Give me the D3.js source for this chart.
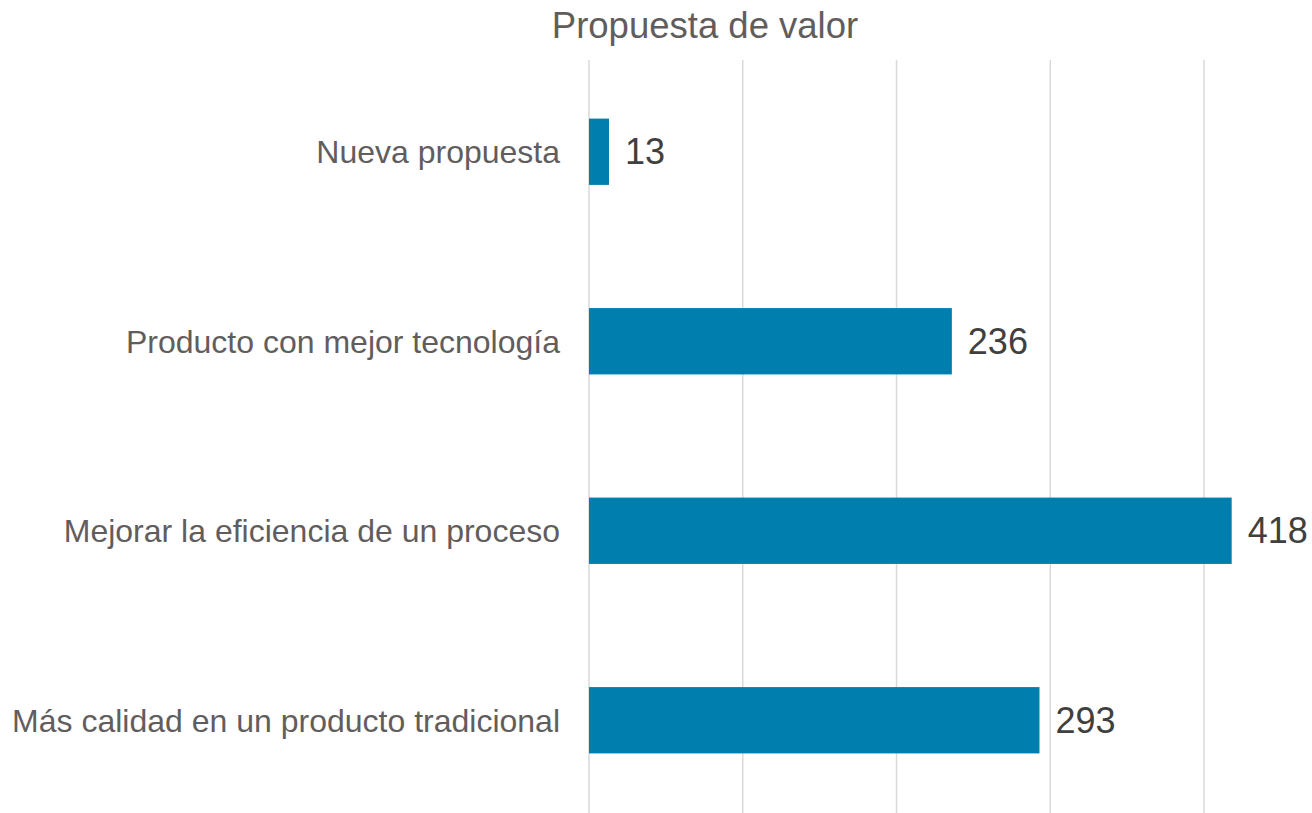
<!DOCTYPE html>
<html><head><meta charset="utf-8">
<script src="https://cdn.jsdelivr.net/npm/d3@7"></script>
<style>body{margin:0;background:#fff}</style>
</head><body>
<svg id="chart" width="1312" height="813"></svg>
<script>
const categories = ["Nueva propuesta","Producto con mejor tecnología","Mejorar la eficiencia de un proceso","Más calidad en un producto tradicional"];
const values = [13, 236, 418, 293];
const xTicks = [0, 100, 200, 300, 400];
const title = "Propuesta de valor";

const svg = d3.select("#chart");
const font = "'Liberation Sans', Arial, sans-serif";
const x = d3.scaleLinear().domain([0, 400]).range([589, 1204]);
const y = d3.scaleBand().domain(categories).range([57, 815]).paddingInner(0.65).paddingOuter(0.325);

svg.append("g").selectAll("line").data(xTicks).join("line")
  .attr("x1", d => x(d)).attr("x2", d => x(d))
  .attr("y1", 60).attr("y2", 813)
  .attr("stroke", "#d9d9d9").attr("stroke-width", 1.5);

svg.append("g").selectAll("rect").data(values).join("rect")
  .attr("x", x(0)).attr("y", (d,i) => y(categories[i]))
  .attr("width", d => x(d) - x(0)).attr("height", y.bandwidth())
  .attr("fill", "#007fae");

svg.append("g").selectAll("text").data(values).join("text")
  .attr("x", d => x(d) + 16).attr("y", (d,i) => y(categories[i]) + y.bandwidth()/2 + 12.5)
  .attr("font-family", font).attr("font-size", 36).attr("fill", "#404040")
  .text(d => d);

svg.append("g").selectAll("text").data(categories).join("text")
  .attr("x", 560).attr("y", d => y(d) + y.bandwidth()/2 + 11.5)
  .attr("text-anchor", "end")
  .attr("font-family", font).attr("font-size", 32).attr("fill", "#625d5d")
  .text(d => d);

svg.append("text").attr("x", 705).attr("y", 38).attr("text-anchor", "middle")
  .attr("font-family", font).attr("font-size", 36.5).attr("fill", "#625d5d")
  .text(title);
</script>
</body></html>
